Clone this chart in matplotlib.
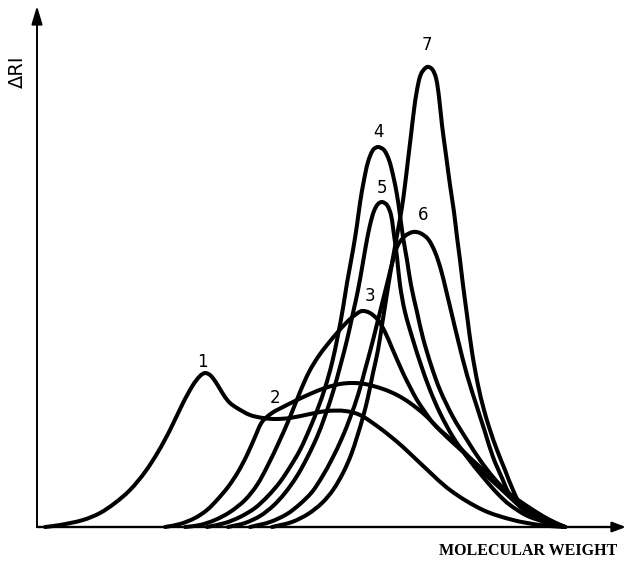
import matplotlib
matplotlib.use("Agg")
import matplotlib.pyplot as plt
import numpy as np
from matplotlib.patches import PathPatch
from matplotlib.path import Path

# GPC traces: position along the MW axis, detector response (ΔRI)
mw1 = [8, 23, 46, 63, 78, 93, 108, 121, 133, 146, 156, 163, 168, 173, 178, 183, 188, 193, 200,
       213, 226, 238, 253, 273, 290, 308, 323, 340, 353, 366, 383, 413, 446, 476, 503, 528]
ri1 = [0, 2, 7, 14, 24, 37, 55, 75, 97, 124, 142, 151, 154, 152, 146, 138, 130, 124, 119,
       112, 109, 108, 109, 113, 116, 116, 112, 101, 91, 80, 64, 37, 17, 7, 2, 0]

mw2 = [128, 143, 158, 170, 180, 191, 201, 210, 218, 225, 235, 246, 260, 273, 288, 303, 315, 328,
       346, 360, 373, 388, 403, 418, 430, 446, 463, 483, 503, 528]
ri2 = [0, 3, 9, 17, 27, 40, 55, 72, 90, 105, 114, 120, 127, 133, 139, 143, 144, 143,
       138, 132, 124, 112, 97, 84, 72, 55, 39, 21, 9, 0]

mw3 = [148, 163, 178, 193, 208, 220, 230, 242, 253, 263, 272, 281, 290, 300, 310, 318, 325, 333,
       341, 348, 355, 366, 373, 380, 388, 396, 413, 433, 453, 473, 493, 511, 528]
ri3 = [0, 2, 7, 15, 27, 42, 60, 85, 110, 135, 155, 170, 182, 194, 205, 212, 216, 214,
       207, 195, 179, 154, 140, 127, 115, 104, 87, 69, 51, 33, 19, 8, 0]

mw4 = [170, 188, 203, 218, 231, 243, 253, 263, 273, 281, 288, 295, 301, 306, 310, 316, 320, 323,
       327, 331, 336, 341, 347, 352, 356, 360, 363, 366, 370, 374, 380, 386, 394, 403, 416, 430,
       443, 456, 473, 493, 511, 528]
ri4 = [0, 4, 10, 19, 31, 45, 60, 77, 99, 119, 139, 164, 192, 219, 244, 277, 302, 324,
       347, 365, 377, 380, 377, 367, 352, 332, 312, 290, 267, 242, 215, 189, 162, 137, 110, 87,
       67, 50, 32, 17, 7, 0]

mw5 = [191, 208, 223, 236, 248, 260, 270, 280, 288, 296, 303, 310, 316, 321, 325, 329, 333, 337,
       341, 345, 350, 354, 357, 360, 363, 368, 376, 384, 393, 403, 416, 430, 446, 460, 473, 493, 528]
ri5 = [0, 4, 11, 21, 34, 51, 69, 90, 111, 135, 160, 187, 214, 237, 259, 282, 302, 316,
       323, 325, 322, 312, 292, 270, 242, 215, 187, 162, 137, 114, 90, 70, 50, 34, 22, 10, 0]

mw6 = [213, 233, 250, 263, 275, 285, 295, 305, 313, 321, 328, 335, 341, 346, 351, 356, 361, 368,
       376, 383, 391, 398, 404, 409, 415, 421, 430, 440, 448, 456, 465, 473, 488, 508, 528]
ri6 = [0, 5, 13, 23, 35, 50, 68, 89, 109, 132, 157, 183, 207, 227, 247, 267, 282, 291,
       295, 294, 288, 275, 257, 237, 212, 187, 152, 120, 95, 70, 49, 32, 16, 5, 0]

mw7 = [235, 255, 271, 285, 296, 306, 314, 320, 326, 331, 336, 341, 345, 349, 353, 357, 361, 365,
       368, 371, 374, 377, 380, 384, 390, 395, 399, 402, 405, 409, 413, 417, 420, 423, 426, 430,
       435, 441, 447, 453, 460, 468, 476, 485, 503, 528]
ri7 = [0, 5, 13, 24, 37, 54, 72, 90, 110, 130, 154, 177, 202, 227, 252, 275, 297, 320,
       342, 367, 392, 417, 437, 453, 460, 458, 449, 430, 402, 372, 342, 315, 290, 267, 242, 212,
       175, 142, 117, 97, 77, 57, 37, 20, 7, 0]

curves = [(mw1, ri1), (mw2, ri2), (mw3, ri3), (mw4, ri4), (mw5, ri5), (mw6, ri6), (mw7, ri7)]
labels = ["1", "2", "3", "4", "5", "6", "7"]
label_xy = [(165, 165), (238, 129), (333, 231), (341, 395), (345, 339), (386, 312), (390, 482)]


def smooth_path(x, y):
    """Bezier path through the read points (chord-length tangents), so traces look hand-drawn."""
    p = np.column_stack([x, y]).astype(float)
    t = np.concatenate([[0], np.cumsum(np.hypot(*np.diff(p, axis=0).T))])
    m = np.empty_like(p)
    m[1:-1] = (p[2:] - p[:-2]) / (t[2:] - t[:-2])[:, None]
    m[0] = (p[1] - p[0]) / (t[1] - t[0])
    m[-1] = (p[-1] - p[-2]) / (t[-1] - t[-2])
    verts, codes = [p[0]], [Path.MOVETO]
    for i in range(len(p) - 1):
        dt = t[i + 1] - t[i]
        verts += [p[i] + m[i] * dt / 3, p[i + 1] - m[i + 1] * dt / 3, p[i + 1]]
        codes += [Path.CURVE4] * 3
    return Path(verts, codes)


fig = plt.figure(figsize=(6.27, 5.71), dpi=100)
ax = fig.add_axes([37 / 627, 44 / 571, 590 / 627, 527 / 571])
ax.set_xlim(0, 590)
ax.set_ylim(0, 527)
ax.axis("off")

# axes drawn as arrows
ax.annotate("", xy=(0, 521), xytext=(0, 0),
            arrowprops=dict(arrowstyle="-|>,head_length=1.1,head_width=0.33",
                            color="black", lw=1.4, shrinkA=0, shrinkB=0),
            annotation_clip=False)
ax.annotate("", xy=(589, 0), xytext=(0, 0),
            arrowprops=dict(arrowstyle="-|>,head_length=0.8,head_width=0.3",
                            color="black", lw=1.7, shrinkA=0, shrinkB=0),
            annotation_clip=False)

for (x, y) in curves:
    ax.add_patch(PathPatch(smooth_path(x, y), facecolor="none", edgecolor="black",
                           lw=2.9, capstyle="round", joinstyle="round", clip_on=False))

for lab, (lx, ly) in zip(labels, label_xy):
    ax.text(lx, ly, lab, ha="center", va="center", fontsize=12,
            family="DejaVu Sans", color="black")

ax.text(-20, 455, "ΔRI", rotation=90, ha="center", va="center", fontsize=14,
        family="DejaVu Sans", color="black")
ax.text(491, -24, "MOLECULAR WEIGHT", ha="center", va="center", fontsize=11.5,
        family="Liberation Serif", weight="bold", color="black", clip_on=False)

fig.savefig("out.png", dpi=100)
